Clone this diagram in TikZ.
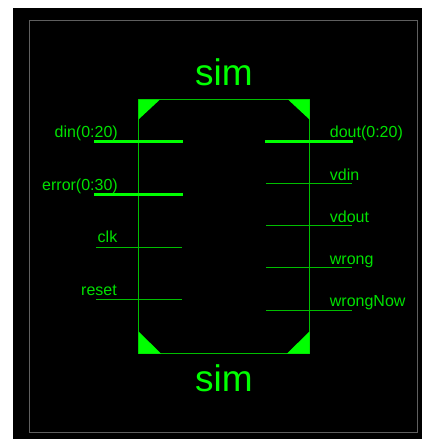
\documentclass[tikz,border=0pt]{standalone}
\usepackage{fontspec}
\setmainfont{Liberation Sans}
\usetikzlibrary{positioning}
\definecolor{symgreen}{RGB}{0,255,0}
\definecolor{pingreen}{RGB}{0,190,0}
\definecolor{txtgreen}{RGB}{0,225,0}
\definecolor{framegray}{RGB}{95,95,95}

\begin{document}
\begin{tikzpicture}[
  x=1pt, y=-1pt,
  sheet/.style={draw=none, fill=black, minimum width=409pt, minimum height=431pt, inner sep=0pt, outer sep=0pt},
  border/.style={draw=framegray, line width=1pt, minimum width=388pt, minimum height=412pt, inner sep=0pt, outer sep=0pt},
  symbox/.style={draw=pingreen, line width=1pt, minimum width=171pt, minimum height=254pt, inner sep=0pt, outer sep=0pt},
  corner/.style={fill=symgreen},
  buspin/.style={draw=symgreen, line width=3pt},
  wirepin/.style={draw=pingreen, line width=1pt},
  pinname/.style={text=txtgreen, font=\fontsize{16}{18}\selectfont, inner sep=0pt},
  leftname/.style={pinname, anchor=base east},
  rightname/.style={pinname, anchor=base west},
  symname/.style={text=symgreen, font=\fontsize{37}{42}\selectfont, inner sep=0pt, anchor=base}
]
\useasboundingbox (0,0) rectangle (422,439);
\node[sheet] (bg) at (217.5,223.5) {};
\node[border] (frame) at (223.5,226.5) {};
\node[symbox] (body) at (224,226.5) {};

% corner marks
\fill[corner] (body.north west) -- ++(21.5,0) -- ++(-21.5,20) -- cycle;
\fill[corner] (body.north east) -- ++(-21.5,0) -- ++(21.5,20) -- cycle;
\fill[corner] (body.south west) -- ++(22.5,0) -- ++(-22.5,-22) -- cycle;
\fill[corner] (body.south east) -- ++(-22.5,0) -- ++(22.5,-22) -- cycle;

\node[symname] (nametop) at (224,85) {sim};
\node[symname] (namebot) at (224,391) {sim};

% left pins
\coordinate (dinA) at (94,141.5);
\coordinate (dinB) at (183,141.5);
\coordinate (errorA) at (94,194);
\coordinate (errorB) at (183,194);
\coordinate (clkA) at (96,247.5);
\coordinate (clkB) at (182,247.5);
\coordinate (resetA) at (96,299.5);
\coordinate (resetB) at (182,299.5);
\draw[buspin] (dinA) -- (dinB);
\draw[buspin] (errorA) -- (errorB);
\draw[wirepin] (clkA) -- (clkB);
\draw[wirepin] (resetA) -- (resetB);
\node[leftname] (dinname) at (118,137) {din(0:20)};
\node[leftname] (errorname) at (118,190.5) {error(0:30)};
\node[leftname] (clkname) at (117.5,242.7) {clk};
\node[leftname] (resetname) at (117,295.5) {reset};

% right pins
\coordinate (doutA) at (265,141.5);
\coordinate (doutB) at (353,141.5);
\coordinate (vdinA) at (266,183.5);
\coordinate (vdinB) at (352,183.5);
\coordinate (vdoutA) at (266,225.5);
\coordinate (vdoutB) at (352,225.5);
\coordinate (wrongA) at (266,267.5);
\coordinate (wrongB) at (352,267.5);
\coordinate (nowA) at (266,310.5);
\coordinate (nowB) at (352,310.5);
\draw[buspin] (doutA) -- (doutB);
\draw[wirepin] (vdinA) -- (vdinB);
\draw[wirepin] (vdoutA) -- (vdoutB);
\draw[wirepin] (wrongA) -- (wrongB);
\draw[wirepin] (nowA) -- (nowB);
\node[rightname] (doutname) at (329.7,137.3) {dout(0:20)};
\node[rightname] (vdinname) at (329.7,180) {vdin};
\node[rightname] (vdoutname) at (329.7,222) {vdout};
\node[rightname] (wrongname) at (329.7,264.3) {wrong};
\node[rightname] (nowname) at (329.7,306) {wrongNow};
\end{tikzpicture}
\end{document}
